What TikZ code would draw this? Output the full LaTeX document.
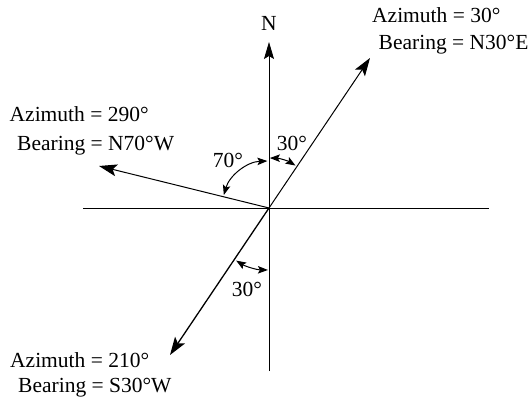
\documentclass[tikz,border=0pt]{standalone}
\usepackage{fontspec}
\setmainfont{Liberation Serif}
\usetikzlibrary{arrows.meta}
\begin{document}
\begin{tikzpicture}[x=1pt,y=1pt,
  lbl/.style={anchor=base west,inner sep=0pt,font=\fontsize{21.5}{25}\selectfont},
  ang/.style={inner sep=0pt,font=\fontsize{21.5}{25}\selectfont},
  axis/.style={line width=0.8pt},
  ray/.style={line width=1pt,-{Stealth[length=18pt,width=12pt,inset=4pt]}},
  turn/.style={line width=1pt,{Stealth[length=10pt,width=7.5pt,inset=2pt]}-{Stealth[length=10pt,width=7.5pt,inset=2pt]}}]
  \useasboundingbox (0,0) rectangle (531,400);
  \coordinate (O) at (269,192);
  \coordinate (west) at (83,192);
  \coordinate (east) at (489,192);
  \coordinate (north) at (269,358);
  \coordinate (south) at (269,29);
  \coordinate (ne) at (370,342);
  \coordinate (wnw) at (99,234);
  \coordinate (ssw) at (170,45);
  \node[ang] (nlab) at (269,377) {N};
  \node[lbl] (azne) at (372,377) {Azimuth = 30°};
  \node[lbl] (bene) at (378.5,350) {Bearing = N30°E};
  \node[lbl] (azwnw) at (9.5,278) {Azimuth = 290°};
  \node[lbl] (bewnw) at (17,250) {Bearing = N70°W};
  \node[lbl] (azssw) at (10,33) {Azimuth = 210°};
  \node[lbl] (bessw) at (18,8) {Bearing = S30°W};
  \node[ang] (a70) at (228,240) {70°};
  \node[ang] (a30n) at (292,257) {30°};
  \node[ang] (a30s) at (247,111) {30°};
  \draw[axis] (west) -- (east);
  \draw[axis,-{Stealth[length=17pt,width=10pt,inset=3pt]}] (south) -- (north);
  \draw[ray] (O) -- (ne);
  \draw[ray] (O) -- (wnw);
  \draw[ray,line width=1.3pt] (O) -- (ssw);
  \draw[turn] ([shift={(164:47)}]O) arc[start angle=164,end angle=92,radius=47];
  \draw[turn] ([shift={(89:50)}]O) arc[start angle=89,end angle=58,radius=50];
  \draw[turn] ([shift={(238:62)}]O) arc[start angle=238,end angle=269,radius=62];
\end{tikzpicture}
\end{document}
